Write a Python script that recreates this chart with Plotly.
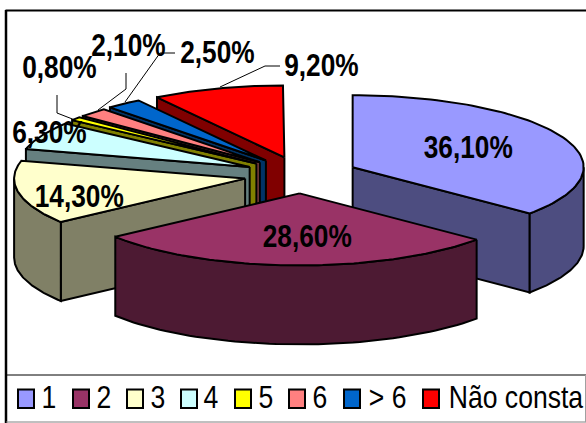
import numpy as np
import plotly.graph_objects as go

categories = ["1", "2", "3", "4", "5", "6", "> 6", "Não consta"]
values = [36.1, 28.6, 14.3, 6.3, 0.8, 2.1, 2.5, 9.2]
colors = ["#9999FF", "#993366", "#FFFFCC", "#CCFFFF", "#FFFF00", "#FF8080", "#0066CC", "#FF0000"]
dark_colors = ["#4D4D80", "#4D1A33", "#808066", "#668080", "#808000", "#804040", "#003366", "#800000"]
draw_order = [7, 6, 5, 4, 3, 2, 0, 1]

W, H = 586, 423
CX, CY, RX, RY, DEPTH, EX, EY = 301, 175, 231, 72, 79, 57, 18.4
FONT = "Liberation Sans, Arial, sans-serif"

def pt(ax, ay, deg, dz=0):
    r = np.radians(deg)
    return ax + RX * np.sin(r), ay - RY * np.cos(r) + dz

fig = go.Figure()

def poly(xs, ys, fill):
    fig.add_trace(go.Scatter(
        x=list(xs) + [xs[0]], y=list(ys) + [ys[0]], mode="lines", fill="toself",
        fillcolor=fill, line=dict(color="black", width=2), hoverinfo="skip", showlegend=False))

cum = np.concatenate([[0], np.cumsum(values)]) * 3.6
for i in draw_order:
    a0, a1 = cum[i], cum[i + 1]
    mid = np.radians((a0 + a1) / 2)
    ax, ay = CX + EX * np.sin(mid), CY - EY * np.cos(mid)
    # radial side walls facing the viewer
    for a, n in ((a0, a0 - 90), (a1, a1 + 90)):
        if np.cos(np.radians(n)) < -1e-6:
            rx, ry = pt(ax, ay, a)
            poly([ax, rx, rx, ax], [ay, ry, ry + DEPTH, ay + DEPTH], dark_colors[i])
    # outer rim wall, front half only
    lo, hi = max(a0, 90), min(a1, 270)
    if hi > lo:
        t = np.linspace(lo, hi, 60)
        xt, yt = pt(ax, ay, t)
        poly(list(xt) + list(xt[::-1]), list(yt) + list((yt + DEPTH)[::-1]), dark_colors[i])
    # top face
    t = np.linspace(a0, a1, 80)
    xt, yt = pt(ax, ay, t)
    poly([ax] + list(xt), [ay] + list(yt), colors[i])

label_pos = [(468, 147), (307, 236), (79, 196), (49, 132), (59, 67), (128, 45), (217, 52), (321, 65)]
annotations = []
for v, (x, y) in zip(values, label_pos):
    annotations.append(dict(x=x, y=y, xref="x", yref="y", showarrow=False,
                            text=f"<b>{v:.2f}%</b>".replace(".", ","),
                            font=dict(family=FONT, size=32, color="#000000")))

leaders = [
    [(280, 66), (265, 66), (220, 87)],
    [(175, 53), (160, 53), (125, 102)],
    [(126, 73), (126, 89), (98, 110)],
    [(57, 95), (57, 113), (75, 120)],
]
shapes = []
for path in leaders:
    for (x0, y0), (x1, y1) in zip(path[:-1], path[1:]):
        shapes.append(dict(type="line", x0=x0, y0=y0, x1=x1, y1=y1, xref="x", yref="y",
                           line=dict(color="black", width=1)))

# chart frame and legend box
shapes += [
    dict(type="line", x0=5.5, y0=10.5, x1=586, y1=10.5, xref="x", yref="y", line=dict(color="black", width=2)),
    dict(type="line", x0=6, y0=10, x1=6, y1=423, xref="x", yref="y", line=dict(color="black", width=2.5)),
    dict(type="line", x0=6, y0=375, x1=586, y1=375, xref="x", yref="y", line=dict(color="black", width=1)),
    dict(type="line", x0=6, y0=422, x1=586, y1=422, xref="x", yref="y", line=dict(color="#808080", width=1)),
    dict(type="line", x0=585.5, y0=375, x1=585.5, y1=422, xref="x", yref="y", line=dict(color="#A0A0A0", width=1)),
]
swatch_x = [18, 73, 127, 181, 235, 289, 344, 423]
text_center_x = [49, 104, 158, 211, 266, 320, 387, 515.5]
for c, name, sx, tx in zip(colors, categories, swatch_x, text_center_x):
    shapes.append(dict(type="rect", x0=sx, x1=sx + 16, y0=389.5, y1=408, xref="x", yref="y",
                       fillcolor=c, line=dict(color="black", width=2)))
    annotations.append(dict(x=tx, y=397, xref="x", yref="y", showarrow=False,
                            text=name, font=dict(family=FONT, size=32, color="#000000")))

fig.update_layout(
    width=W, height=H, margin=dict(l=0, r=0, t=0, b=0),
    paper_bgcolor="white", plot_bgcolor="white", showlegend=False,
    xaxis=dict(range=[0, W], visible=False, fixedrange=True),
    yaxis=dict(range=[H, 0], visible=False, fixedrange=True),
    annotations=annotations, shapes=shapes,
)
# The reference type is condensed: narrow the real text elements horizontally.
squeeze = """
document.body.style.margin='0';document.body.style.overflow='hidden';
document.querySelectorAll('text.annotation-text').forEach(function(el){
  var k = el.textContent.indexOf('%') >= 0 ? 0.82 : 0.83;
  el.setAttribute('textLength', el.getComputedTextLength()*k);
  el.setAttribute('lengthAdjust','spacingAndGlyphs');
});
"""
fig.write_html("out.html", config={"displayModeBar": False}, post_script=squeeze)
